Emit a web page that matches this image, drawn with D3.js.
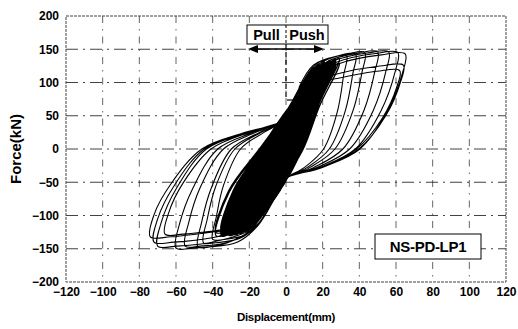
<!DOCTYPE html>
<html><head><meta charset="utf-8">
<script src="https://cdn.jsdelivr.net/npm/d3@7"></script>
<style>
html,body{margin:0;padding:0;background:#fff;}
svg{display:block;font-family:"Liberation Sans",Arial,sans-serif;}
</style></head>
<body>
<svg id="chart" width="518" height="329"></svg>
<script>
// ---- tick values / labels ----
const xTicks = [-120,-100,-80,-60,-40,-20,0,20,40,60,80,100,120];
const yTicks = [-200,-150,-100,-50,0,50,100,150,200];
const xGrid = [-100,-80,-60,-40,-20,0,20,40,60,80,100];
const yGrid = [-150,-100,-50,0,50,100,150];
const xTitle = "Displacement(mm)";
const yTitle = "Force(kN)";
const specimen = "NS-PD-LP1";
const dirLabels = ["Pull","Push"];

// ---- hysteresis: small/medium cycles (displacement mm, force kN) ----
const innerLoops = [
 [[-4,-30],[-3.3,-15],[-1.5,0],[0.3,15],[3,30],[1.9,15],[0.9,0],[-0.6,-15]],
 [[-7,-50],[-5.7,-25],[-2.5,0],[0.5,25],[5,50],[3.1,25],[1.6,0],[-1,-25]],
 [[-10,-72],[-8.1,-36],[-3.6,0],[0.6,35],[7,70],[4.4,35],[2.3,0],[-1.4,-36]],
 [[-13,-92],[-10.5,-46],[-4.6,0],[0.8,44],[9,88],[5.7,44],[3,0],[-1.8,-46]],
 [[-16,-108],[-12.9,-54],[-5.6,0],[1,51],[11,102],[6.9,51],[3.6,0],[-2.3,-54]],
 [[-16,-100],[-13.2,-50],[-6,0],[1.2,47],[11,95],[7.2,47],[4,0],[-2,-50]],
 [[-19,-118],[-15.3,-59],[-6.7,0],[1.2,57],[13,115],[8.2,57],[4.3,0],[-2.7,-59]],
 [[-19,-112],[-15.6,-56],[-7.1,0],[1.5,54],[13,108],[8.6,54],[4.7,0],[-2.4,-56]],
 [[-22,-124],[-17.7,-62],[-7.7,0],[1.4,61],[15,123],[9.5,61],[5,0],[-3.1,-62]],
 [[-22,-118],[-18,-59],[-8.2,0],[1.7,58],[15,116],[9.9,58],[5.4,0],[-2.8,-59]],
 [[-25,-127],[-20.2,-63],[-9,0],[1.8,64],[18,128],[11.3,64],[5.8,0],[-3.4,-63]],
 [[-25,-121],[-20.6,-60],[-9.5,0],[2.1,60],[18,121],[11.6,60],[6.3,0],[-3,-60]],
 [[-28,-129],[-22.7,-64],[-10.2,0],[2.3,65],[21,131],[13.1,65],[6.6,0],[-3.8,-64]],
 [[-28,-123],[-23,-61],[-10.7,0],[2.6,62],[21,124],[13.4,62],[7,0],[-3.5,-61]],
 [[-31,-130],[-25.2,-65],[-11.5,0],[2.7,66],[24,133],[14.9,66],[7.4,0],[-4.1,-65]],
 [[-31,-124],[-25.3,-62],[-12,0],[3,63],[24,126],[15.1,63],[7.8,0],[-3.9,-62]],
 [[-35,-131],[-28.4,-65],[-13,0],[3,67],[27,135],[16.7,67],[8.3,0],[-4.7,-65]],
 [[-35,-125],[-28.7,-62],[-13.4,0],[3.4,64],[27,128],[17,64],[8.7,0],[-4.4,-62]],
 [[-38,-131],[-31,-65],[-14,0],[3.2,68],[29,136],[18,68],[9,0],[-5,-65]],
 [[-38,-126],[-31.3,-63],[-14.5,0],[3.5,64],[29,129],[18.2,64],[9.4,0],[-4.8,-63]]
];
// how many of the inner cycles overlap into the solid black core
const solidCore = 18;

// ---- hysteresis: large pinched cycles ----
const outerCycles = [
 [[7,92],[14.9,126],[26.4,138.6],[33,140],[31.5,112],[28,56],[20.5,0],[9.9,-28],[-1,-46],[-7,-78],[-14,-110],[-22,-129],[-34,-136],[-40,-136],[-38,-102],[-34,-54],[-24.8,0],[-12,25],[-2,42]],
 [[8,94],[17.1,128.7],[30.4,141.6],[38,143],[36.5,114],[32.3,57],[23.6,0],[11.4,-28],[-2,-47],[-8,-80],[-15,-112],[-24.8,-134],[-38.3,-141],[-45,-141],[-43,-106],[-38.3,-56],[-27.9,0],[-13.5,25],[-1,43]],
 [[8,95],[19.4,130.5],[34.4,143.6],[43,145],[41.5,116],[36.6,58],[26.7,0],[12.9,-28],[-2,-48],[-8,-81],[-15,-114],[-26.4,-140],[-40.8,-147],[-48,-147],[-46,-110],[-40.8,-59],[-29.8,0],[-14.4,25],[0,44]],
 [[8,95],[22.5,131.4],[40,144.5],[50,146],[48.5,117],[42.5,58],[31,0],[15,-28],[-2,-47],[-8,-80],[-16,-115],[-30.3,-139],[-46.8,-146],[-55,-146],[-53,-110],[-46.8,-58],[-34.1,0],[-16.5,25],[-1,44]],
 [[9,97],[25.2,131.4],[44.8,144.5],[56,146],[54.5,117],[47.6,58],[34.7,0],[16.8,-28],[-2,-47],[-8,-80],[-16,-116],[-33,-142],[-51,-149],[-60,-149],[-58,-112],[-51,-60],[-37.2,0],[-18,25],[0,45]],
 [[9,97],[27.5,130.5],[48.8,143.6],[61,145],[59.5,116],[51.9,58],[37.8,0],[18.3,-28],[-2,-47],[-8,-80],[-16,-116],[-38.5,-139],[-59.5,-146],[-70,-146],[-68,-110],[-59.5,-58],[-43.4,0],[-21,25],[0,45]],
 [[10,98],[29.3,128.7],[52,141.6],[65,143],[63.5,114],[55.3,57],[40.3,0],[19.5,-28],[-2,-47],[-8,-80],[-16,-115],[-40.7,-125],[-62.9,-132],[-74,-132],[-72,-99],[-62.9,-53],[-45.9,0],[-22.2,25],[-1,44]],
 [[10,96],[28.8,113.4],[51.2,124.7],[64,126],[62.5,101],[54.4,50],[39.7,0],[19.2,-28],[-2,-47],[-8,-80],[-16,-115],[-39.6,-133],[-61.2,-140],[-72,-140],[-70,-105],[-61.2,-56],[-44.6,0],[-21.6,25],[-1,44]],
 [[10,95],[27.9,106],[49.6,116.8],[62,118],[60.5,94],[52.7,47],[38.4,0],[18.6,-28],[-2,-47],[-8,-80],[-16,-114],[-36.3,-122],[-56.1,-128],[-66,-128],[-64,-96],[-56.1,-51],[-40.9,0],[-19.8,25],[0,42]]
];

const m = {left:66, right:506, top:16, bottom:282};
const svg = d3.select("#chart");
const x = d3.scaleLinear().domain([-120,120]).range([m.left, m.right]);
const y = d3.scaleLinear().domain([-200,200]).range([m.bottom, m.top]);

// grid
const g = svg.append("g");
g.selectAll("line.v").data(xGrid).join("line")
  .attr("x1", d=>x(d)).attr("x2", d=>x(d))
  .attr("y1", m.top).attr("y2", m.bottom)
  .attr("stroke", "#333").attr("stroke-width", 1)
  .attr("stroke-dasharray", "7,6,1.5,6").attr("opacity", 0.75);
g.selectAll("line.h").data(yGrid).join("line")
  .attr("x1", m.left).attr("x2", m.right)
  .attr("y1", d=>y(d)).attr("y2", d=>y(d))
  .attr("stroke", "#222").attr("stroke-width", 1)
  .attr("stroke-dasharray", "12,5,2,5").attr("opacity", 0.85);

// frame
svg.append("rect").attr("x", m.left).attr("y", m.top)
  .attr("width", m.right-m.left).attr("height", m.bottom-m.top)
  .attr("fill","none").attr("stroke","#444").attr("stroke-width",1)
  .attr("stroke-dasharray","3,1");

// hysteresis curve
const line = d3.line().x(d=>x(d[0])).y(d=>y(d[1])).curve(d3.curveCatmullRom.alpha(0.5));
const closedLine = d3.line().x(d=>x(d[0])).y(d=>y(d[1])).curve(d3.curveCatmullRomClosed.alpha(0.5));
svg.append("g").selectAll("path").data(innerLoops.slice(0, solidCore)).join("path")
  .attr("d", d=>closedLine(d)).attr("fill","#000").attr("stroke","none");
const innerPts = [[0,0]].concat(...innerLoops);
svg.append("path").attr("d", line(innerPts))
  .attr("fill","none").attr("stroke","#000").attr("stroke-width",1.3);
const outerPts = [].concat(...outerCycles);
svg.append("path").attr("d", line(outerPts))
  .attr("fill","none").attr("stroke","#000").attr("stroke-width",1.1);

// axes
const fmt = d=>d<0?"\u2212"+(-d):String(d);
const ax = svg.append("g").attr("transform",`translate(0,${m.bottom})`)
  .call(d3.axisBottom(x).tickValues(xTicks).tickSize(0).tickPadding(5).tickFormat(fmt));
ax.select(".domain").remove();
ax.selectAll("text").attr("font-size",12).attr("font-weight","bold").attr("font-family","Liberation Sans, Arial, sans-serif").attr("fill","#000");
const ay = svg.append("g").attr("transform",`translate(${m.left},0)`)
  .call(d3.axisLeft(y).tickValues(yTicks).tickSize(0).tickPadding(7).tickFormat(fmt));
ay.select(".domain").remove();
ay.selectAll("text").attr("font-size",12).attr("font-weight","bold").attr("font-family","Liberation Sans, Arial, sans-serif").attr("fill","#000");

// titles
svg.append("text").attr("x", x(0)).attr("y", 321).attr("text-anchor","middle")
  .attr("font-size",11.5).attr("font-weight","bold").attr("letter-spacing",-0.3).text(xTitle);
svg.append("text").attr("transform",`translate(21,${y(0)}) rotate(-90)`).attr("text-anchor","middle")
  .attr("font-size",15).attr("font-weight","bold").text(yTitle);

// Pull / Push box
const bx0 = 247, bx1 = 328, by0 = 25, by1 = 44, bmid = x(0);
svg.append("rect").attr("x",bx0).attr("y",by0).attr("width",bx1-bx0).attr("height",by1-by0)
  .attr("fill","#fff").attr("stroke","#000").attr("stroke-width",1);
svg.append("line").attr("x1",bmid).attr("x2",bmid).attr("y1",by0).attr("y2",by1)
  .attr("stroke","#000").attr("stroke-width",1).attr("stroke-dasharray","3,2");
svg.append("text").attr("x",(bx0+bmid)/2).attr("y",by1-4).attr("text-anchor","middle")
  .attr("font-size",14.5).attr("font-weight","bold").text(dirLabels[0]);
svg.append("text").attr("x",(bmid+bx1)/2).attr("y",by1-4).attr("text-anchor","middle")
  .attr("font-size",14.5).attr("font-weight","bold").text(dirLabels[1]);
// double arrow
const ay0 = 49;
svg.append("line").attr("x1",bx0+8).attr("x2",bx1-8).attr("y1",ay0).attr("y2",ay0)
  .attr("stroke","#000").attr("stroke-width",1.6);
svg.append("path").attr("d",`M${bx0+1},${ay0} L${bx0+11},${ay0-4} L${bx0+11},${ay0+4} Z`).attr("fill","#000");
svg.append("path").attr("d",`M${bx1-4},${ay0} L${bx1-14},${ay0-4} L${bx1-14},${ay0+4} Z`).attr("fill","#000");
// leader line
svg.append("line").attr("x1",bmid).attr("x2",bmid).attr("y1",by1).attr("y2",100)
  .attr("stroke","#000").attr("stroke-width",1.2).attr("stroke-dasharray","5,3");
svg.append("line").attr("x1",bmid+1).attr("x2",bmid+16).attr("y1",100).attr("y2",100)
  .attr("stroke","#000").attr("stroke-width",1.2);

// specimen label
svg.append("rect").attr("x",375).attr("y",234).attr("width",106).attr("height",25)
  .attr("fill","#fff").attr("stroke","#000").attr("stroke-width",1);
svg.append("text").attr("x",428).attr("y",252).attr("text-anchor","middle")
  .attr("font-size",15).attr("font-weight","bold").attr("letter-spacing",-0.3).text(specimen);
</script>
</body></html>
